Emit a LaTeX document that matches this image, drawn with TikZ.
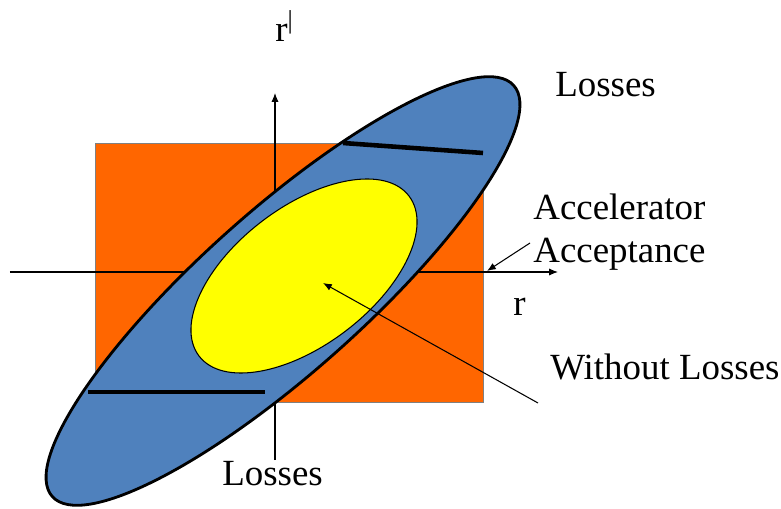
\documentclass[tikz,border=0pt]{standalone}
\usepackage{fontspec}
\setmainfont{Liberation Serif}
\usetikzlibrary{arrows.meta}
\definecolor{accorange}{RGB}{255,102,0}
\definecolor{beamblue}{RGB}{79,129,189}
\definecolor{coreyellow}{RGB}{255,255,0}
\begin{document}
\begin{tikzpicture}[
  lbl/.style={font=\fontsize{21}{25}\selectfont, inner sep=0pt, anchor=base west},
  ax/.style={line width=0.6pt, -{Latex[length=5pt,width=4pt]}},
  cutline/.style={line width=2.6pt}]
\useasboundingbox (0,0) rectangle (15.62,10.16);
\fill[accorange, draw=black!50, line width=0.4pt] (1.9,2.12) rectangle (9.66,7.3);

\coordinate (xl) at (0.2,4.72);
\coordinate (xr) at (11.16,4.72);
\coordinate (yb) at (5.5,0.96);
\coordinate (yt) at (5.5,8.3);
\draw[ax] (xl) -- (xr);
\draw[ax] (yb) -- (yt);

\draw[fill=beamblue, line width=1.6pt, rotate around={41.7:(5.66,4.34)}] (5.66,4.34) ellipse (6.18 and 1.62);
\draw[fill=coreyellow, line width=0.6pt, rotate around={37.3:(6.08,4.64)}] (6.08,4.64) ellipse (2.64 and 1.38);
\draw[cutline] (6.86,7.3) -- (9.66,7.1);
\draw[cutline] (1.76,2.32) -- (5.3,2.32);

\node[lbl] (rp) at (5.5,9.32) {r\textsuperscript{|}};
\node[lbl] (losstop) at (11.1,8.22) {Losses};
\node[lbl] (accA) at (10.66,5.76) {Accelerator};
\node[lbl] (accB) at (10.66,4.9) {Acceptance};
\node[lbl] (rlab) at (10.26,3.84) {r};
\node[lbl] (wol) at (11.0,2.56) {Without Losses};
\node[lbl] (lossbot) at (4.44,0.46) {Losses};

\coordinate (accTail) at (10.6,5.3);
\coordinate (accTip) at (9.74,4.74);
\draw[ax] (accTail) -- (accTip);
\coordinate (wolTail) at (10.76,2.1);
\coordinate (wolTip) at (6.46,4.5);
\draw[ax] (wolTail) -- (wolTip);
\end{tikzpicture}
\end{document}
